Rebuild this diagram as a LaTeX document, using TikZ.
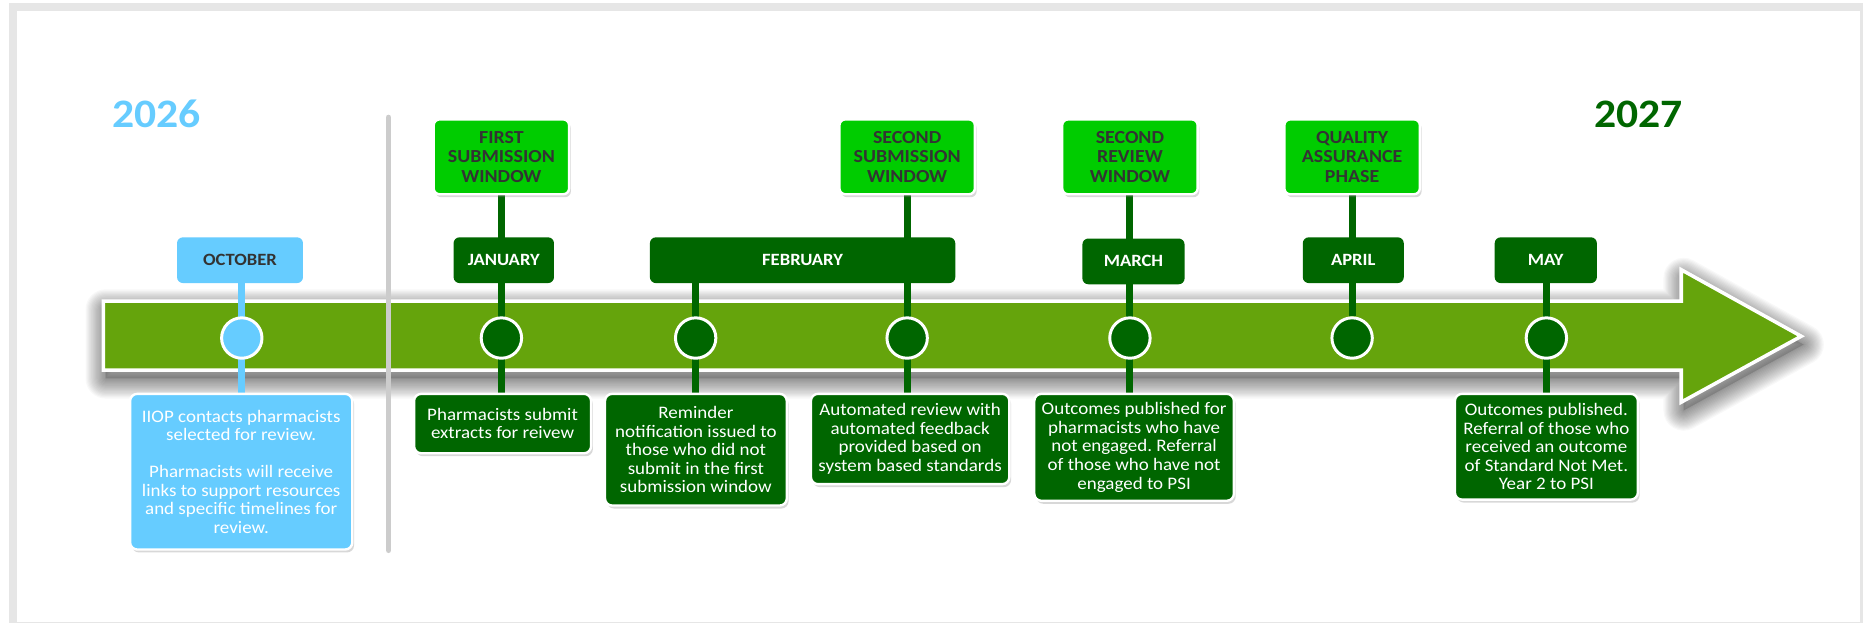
\documentclass[tikz,border=0pt]{standalone}
\usepackage{fontspec}
\setmainfont{Carlito}[FakeStretch=1.08]
\usetikzlibrary{shadows}
\frenchspacing
\definecolor{dkgreen}{RGB}{0,102,0}
\definecolor{brgreen}{RGB}{0,204,0}
\definecolor{lblue}{RGB}{102,204,255}
\definecolor{bandgreen}{RGB}{101,164,12}
\definecolor{framegray}{RGB}{230,230,230}
\definecolor{sepgray}{RGB}{204,204,204}
\definecolor{txtgray}{RGB}{51,51,51}
\newcommand\descfont{\fontsize{14.8}{15.6}\selectfont}
\newcommand\monthfont{\bfseries\fontsize{14.5}{16}\selectfont}
\newcommand\topfont{\bfseries\fontsize{15.5}{16.5}\selectfont}
\newcommand\yearfont{\bfseries\fontsize{34}{40}\selectfont}
\newcommand\bandpath{(87,253.5) -- (1415,253.5) -- (1415,227) -- (1516,283) -- (1415,338.5) -- (1415,311.5) -- (87,311.5) -- cycle}
\pgfdeclarelayer{back}
\pgfdeclarelayer{mid}
\pgfsetlayers{back,mid,main}
\begin{document}
\begin{tikzpicture}[x=1pt,y=-1pt,
  stem/.style={line width=6pt, draw=#1}, stem/.default=dkgreen,
  dot/.style={circle, minimum size=34pt, inner sep=0pt, fill=#1, draw=white, line width=2.5pt},
  monthbox/.style 2 args={rounded corners=5pt, fill=#1, inner sep=0pt, minimum height=38.5pt, minimum width=#2, font=\monthfont},
  boxshadow/.style={drop shadow={shadow xshift=1.5pt, shadow yshift=-2.5pt, opacity=0.3}},
  topbox/.style={rounded corners=5pt, fill=brgreen, draw=white, line width=2pt, minimum width=114pt, minimum height=63pt, inner sep=0pt, align=center, text=txtgray, font=\topfont, boxshadow},
  desc/.style 2 args={rounded corners=6pt, fill=dkgreen, draw=white, line width=2pt, minimum width=#1, minimum height=#2, inner sep=0pt, align=center, text=white, font=\descfont, boxshadow},
  year/.style={font=\yearfont, text=#1}
]
\useasboundingbox (0,0) rectangle (1568,524);

% circles on the band
\node[dot=lblue]   (c0) at (203.5,284.5) {};
\node[dot=dkgreen] (c1) at (422,284.5) {};
\node[dot=dkgreen] (c2) at (585.5,284.5) {};
\node[dot=dkgreen] (c3) at (763.5,284.5) {};
\node[dot=dkgreen] (c4) at (951,284.5) {};
\node[dot=dkgreen] (c5) at (1138,284.5) {};
\node[dot=dkgreen] (c6) at (1301.5,284.5) {};

% month labels
\node[monthbox={lblue}{106pt}, text=txtgray] (m0) at (202,219) {OCTOBER};
\node[monthbox={dkgreen}{84.5pt}, text=white] (m1) at (424,219) {JANUARY};
\node[monthbox={dkgreen}{257pt}, text=white] (m2) at (675.5,219) {FEBRUARY};
\node[monthbox={dkgreen}{86pt}, text=white] (m3) at (954,220) {MARCH};
\node[monthbox={dkgreen}{85pt}, text=white] (m4) at (1139,219) {APRIL};
\node[monthbox={dkgreen}{86pt}, text=white] (m5) at (1301,219) {MAY};

% top phase boxes
\node[topbox] (t1) at (422,132) {FIRST\\SUBMISSION\\WINDOW};
\node[topbox] (t2) at (763.5,132) {SECOND\\SUBMISSION\\WINDOW};
\node[topbox] (t3) at (951,132) {SECOND\\REVIEW\\WINDOW};
\node[topbox] (t4) at (1138,132) {QUALITY\\ASSURANCE\\PHASE};

% description boxes
\node[desc={187pt}{131pt}, fill=lblue] (d0) at (203,397) {IIOP contacts pharmacists\\selected for review.\\[15.6pt]Pharmacists will receive\\links to support resources\\and specific timelines for\\review.};
\node[desc={149pt}{50pt}] (d1) at (423,356.5) {Pharmacists submit\\extracts for reivew};
\node[desc={153pt}{94pt}] (d2) at (585.7,378.5) {Reminder\\notification issued to\\those who did not\\submit in the first\\submission window};
\node[desc={167pt}{76pt}] (d3) at (766,369.5) {Automated review with\\automated feedback\\provided based on\\system based standards};
\node[desc={168pt}{90pt}] (d4) at (954.5,376.5) {Outcomes published for\\pharmacists who have\\not engaged. Referral\\of those who have not\\engaged to PSI};
\node[desc={154pt}{89pt}] (d6) at (1301.5,376) {Outcomes published.\\Referral of those who\\received an outcome\\of Standard Not Met.\\Year 2 to PSI};

% years
\node[year=lblue] (y26) at (132,96) {2026};
\node[year=dkgreen] (y27) at (1379,96) {2027};

\begin{pgfonlayer}{back}
  \fill[framegray] (7.6,2.5) rectangle (1568,524);
  \fill[white] (14.3,9.3) rectangle (1565.5,523.2);
  % blurred shadow of the band
  \begin{scope}[shift={(2,7)}]
    \fill[black, opacity=0.15] \bandpath;
    \foreach \w in {2,4,...,34} {
      \draw[black, draw opacity=0.027, line width=\w pt, line join=round] \bandpath;
    }
  \end{scope}
  \draw[fill=bandgreen, draw=white, line width=3pt, line join=miter] \bandpath;
\end{pgfonlayer}

\begin{pgfonlayer}{mid}
  \draw[sepgray, line width=5pt, line cap=round] (327,99) coordinate (s1) -- (327,463) coordinate (s2);
  \draw[stem=lblue] (c0 |- m0.center) -- (c0 |- d0.center);
  \draw[stem] (c1 |- t1.center) -- (c1 |- d1.center);
  \draw[stem] (c2 |- m2.center) -- (c2 |- d2.center);
  \draw[stem] (c3 |- t2.center) -- (c3 |- d3.center);
  \draw[stem] (c4 |- t3.center) -- (c4 |- d4.center);
  \draw[stem] (c5 |- t4.center) -- (c5);
  \draw[stem] (c6 |- m5.center) -- (c6 |- d6.center);
\end{pgfonlayer}
\end{tikzpicture}
\end{document}
